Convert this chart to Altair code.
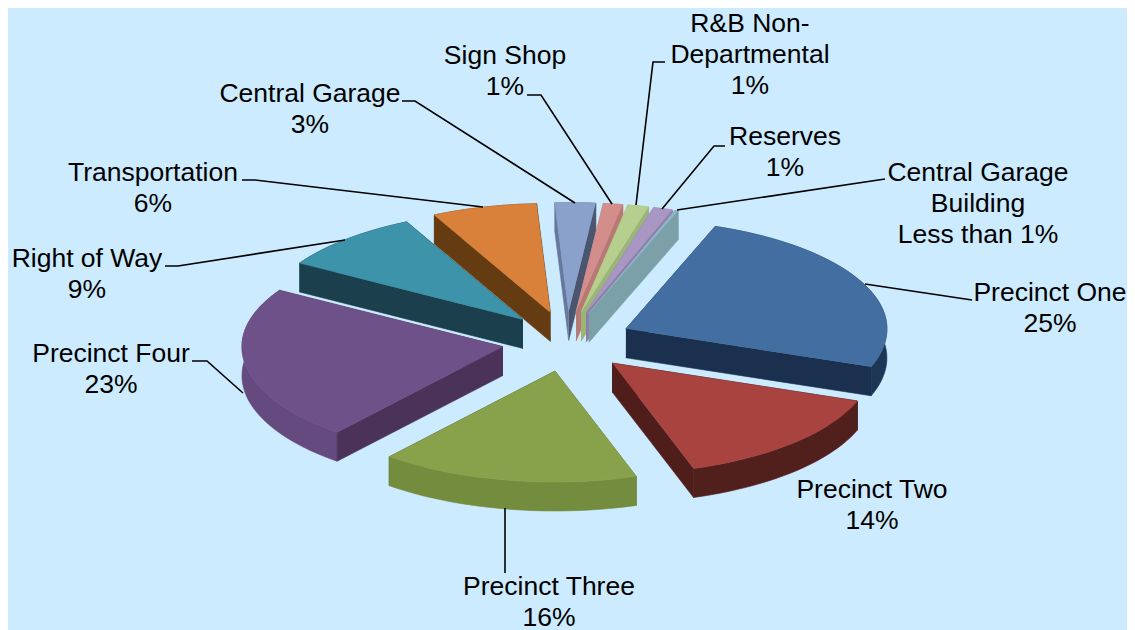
import math
import altair as alt
import pandas as pd

names = ["Precinct One", "Precinct Two", "Precinct Three", "Precinct Four", "Right of Way",
         "Transportation", "Central Garage", "Sign Shop", "R&B Non-Departmental", "Reserves",
         "Central Garage Building"]
shares = [25, 14.4, 16, 22.7, 9, 6.5, 2.5, 1.2, 1.3, 1.2, 0.2]
top_colors = ["#436EA1", "#A8433F", "#88A24B", "#6E5189", "#3C93AA", "#D9813A",
              "#8AA1CB", "#D38E8C", "#B6CF8E", "#A896C3", "#8FB5C9"]
start_wall = ["#1B304F", "#1F1010", "#5C7030", "#4A3258", "#1B3F4C", "#653C12",
              "#66789C", "#B87876", "#9BB577", "#8F7EAA", "#7CA0A8"]
end_wall = ["#1B304F", "#4F1E1B", "#4F6428", "#4A3258", "#1B3F4C", "#4A2C10",
            "#4A5570", "#B87876", "#9BB577", "#8F7EAA", "#7CA0A8"]
rim_colors = ["#1D3656", "#52201C", "#748C3E", "#644A7F", "#1B3F4C", "#653C12",
              "#66789C", "#B87876", "#9BB577", "#8F7EAA", "#7CA0A8"]
paint_order = [6, 7, 8, 9, 10, 5, 4, 0, 3, 1, 2]

label_lines = [["Precinct One", "25%"], ["Precinct Two", "14%"], ["Precinct Three", "16%"],
               ["Precinct Four", "23%"], ["Right of Way", "9%"], ["Transportation", "6%"],
               ["Central Garage", "3%"], ["Sign Shop", "1%"], ["R&B Non-", "Departmental", "1%"],
               ["Reserves", "1%"], ["Central Garage", "Building", "Less than 1%"]]
label_x = [1050, 872, 549, 111, 87, 153, 310, 505, 750, 785, 978]
label_y = [293, 490, 587, 354, 259, 173, 94, 56, 24, 137, 173]
leaders = {
    "Precinct One": [(865, 284), (972, 300)],
    "Precinct Three": [(505, 508), (505, 573)],
    "Precinct Four": [(243, 393), (207, 361), (192, 361)],
    "Right of Way": [(345, 240), (178, 266), (165, 266)],
    "Transportation": [(483, 207), (255, 180), (242, 180)],
    "Central Garage": [(575, 203), (415, 101), (402, 101)],
    "Sign Shop": [(612, 204), (541, 95), (527, 95)],
    "R&B Non-Departmental": [(636, 205), (653, 62), (665, 62)],
    "Reserves": [(662, 209), (714, 146), (725, 146)],
    "Central Garage Building": [(677, 210), (885, 179)],
}

CX, CY, RX, RY_BACK, RY_FRONT, EX, EY, DEPTH = 567, 341.5, 261, 109, 111, 65, 30, 29
START = 70.0
total = sum(shares)
angles = [START]
for s in shares:
    angles.append(angles[-1] - 360 * s / total)

rows = []
pid = 0


def add(points, color):
    global pid
    for i, (x, y) in enumerate(points):
        rows.append({"poly": f"p{pid:04d}", "i": i, "x": x, "y": y, "c": color})
    pid += 1


for k in paint_order:
    a0, a1 = angles[k], angles[k + 1]
    mid = math.radians((a0 + a1) / 2)
    ax = CX + EX * math.cos(mid)
    ay = CY - EY * math.sin(mid)
    n = max(2, int(abs(a0 - a1) / 2))
    rim = []
    for j in range(n + 1):
        t = math.radians(a0 + (a1 - a0) * j / n)
        ry = RY_BACK if math.sin(t) > 0 else RY_FRONT
        rim.append((ax + RX * math.cos(t), ay - ry * math.sin(t)))
    down = lambda p: (p[0], p[1] + DEPTH)
    walls = [
        ([(ax, ay), rim[0], down(rim[0]), (ax, ay + DEPTH)], start_wall[k]),
        ([(ax, ay), rim[-1], down(rim[-1]), (ax, ay + DEPTH)], end_wall[k]),
        (rim + [down(p) for p in reversed(rim)], rim_colors[k]),
    ]
    walls.sort(key=lambda w: sum(p[1] for p in w[0]) / len(w[0]))
    for pts, col in walls:
        add(pts, col)
    add([(ax, ay)] + rim, top_colors[k])

polys = pd.DataFrame(rows)

leader_rows = []
for name, pts in leaders.items():
    for i, (x, y) in enumerate(pts):
        leader_rows.append({"name": name, "i": i, "x": x, "y": y})
leader_df = pd.DataFrame(leader_rows)

text_rows = []
for lines, x, y in zip(label_lines, label_x, label_y):
    for j, line in enumerate(lines):
        text_rows.append({"t": line, "x": x, "y": y + 31 * j})
text_df = pd.DataFrame(text_rows)

xs = alt.X("x:Q", scale=alt.Scale(domain=[8, 1127], nice=False, zero=False), axis=None)
ys = alt.Y("y:Q", scale=alt.Scale(domain=[630, 8], nice=False, zero=False), axis=None)

shapes = alt.Chart(polys).mark_line(strokeWidth=0.6, interpolate="linear").encode(
    x=xs, y=ys, detail="poly:N", order="i:Q",
    fill=alt.Fill("c:N", scale=None), stroke=alt.Stroke("c:N", scale=None),
)
lines = alt.Chart(leader_df).mark_line(color="black", strokeWidth=1.6).encode(
    x=xs, y=ys, detail="name:N", order="i:Q")
texts = alt.Chart(text_df).mark_text(font="Liberation Sans", fontSize=26.5, color="black",
                                     baseline="middle", align="center").encode(
    x=xs, y=ys, text="t:N")

chart = alt.layer(shapes, lines, texts).properties(
    width=1119, height=622, padding=0, background="#CCEBFF",
    autosize=alt.AutoSizeParams(type="none"),
).configure_view(stroke=None)
chart.save("out.html", embed_options={"renderer": "svg", "actions": False})
